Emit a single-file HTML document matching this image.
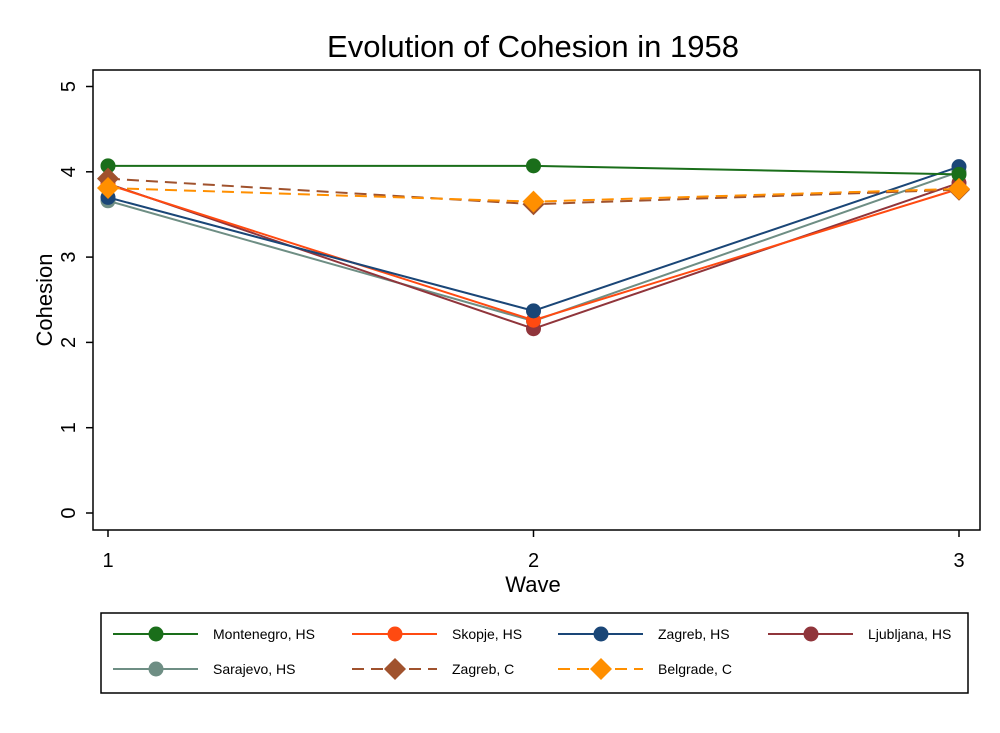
<!DOCTYPE html>
<html><head><meta charset="utf-8"><style>
body{margin:0;background:#fff;font-family:"Liberation Sans",sans-serif}
</style></head><body>
<svg id="c" width="1000" height="728" xmlns="http://www.w3.org/2000/svg">
<rect width="1000" height="728" fill="#fff"/>
<text x="533" y="57" font-size="31" text-anchor="middle" font-family="Liberation Sans">Evolution of Cohesion in 1958</text>
<rect x="93" y="70" width="887" height="460" fill="none" stroke="#000" stroke-width="1.5"/>
<text transform="translate(52,300) rotate(-90)" font-size="22" text-anchor="middle">Cohesion</text>
<text x="533" y="592" font-size="22" text-anchor="middle">Wave</text>
<g id="ax"></g><g id="marks"></g>
<rect x="101" y="613" width="867" height="80" fill="none" stroke="#000" stroke-width="1.5"/>
<g id="leg"></g>
</svg>
<script>
const waves=[1,2,3];
const yTicks=[0,1,2,3,4,5];
const names=["Montenegro, HS","Skopje, HS","Zagreb, HS","Ljubljana, HS","Sarajevo, HS","Zagreb, C","Belgrade, C"];
const montenegro=[4.07,4.07,3.97];
const skopje=[3.85,2.26,3.80];
const zagrebHS=[3.70,2.37,4.06];
const ljubljana=[3.86,2.16,3.87];
const sarajevo=[3.66,2.25,4.00];
const zagrebC=[3.92,3.62,3.79];
const belgradeC=[3.81,3.65,3.80];
const series=[montenegro,skopje,zagrebHS,ljubljana,sarajevo,zagrebC,belgradeC];
const colors=["#1a6e1a","#ff4a11","#1a4677","#90353b","#6e8e84","#a0522d","#ff8f00"];
const dashed=[0,0,0,0,0,1,1];
const diamond=[0,0,0,0,0,1,1];
const order=[4,3,1,2,0,5,6];
const X=v=>108+(v-1)*425.5;
const Y=v=>513-v*85.3;
const NS="http://www.w3.org/2000/svg";
function mk(t,a,p){const e=document.createElementNS(NS,t);for(const k in a)e.setAttribute(k,a[k]);p.appendChild(e);return e;}
const ax=document.getElementById('ax');
yTicks.forEach(t=>{mk('line',{x1:86,x2:93,y1:Y(t),y2:Y(t),stroke:'#000','stroke-width':1.5},ax);
 const tx=mk('text',{transform:`translate(${75},${Y(t)}) rotate(-90)`,'font-size':20,'text-anchor':'middle'},ax);tx.textContent=t;
 
 });
waves.forEach(w=>{mk('line',{x1:X(w),x2:X(w),y1:530,y2:537,stroke:'#000','stroke-width':1.5},ax);
 const tx=mk('text',{x:X(w),y:567,'font-size':20,'text-anchor':'middle'},ax);tx.textContent=w;
 
 });
const m=document.getElementById('marks');
function marker(x,y,i,p){
 if(diamond[i]) return mk('polygon',{points:`${x},${y-11} ${x+11},${y} ${x},${y+11} ${x-11},${y}`,fill:colors[i]},p);
 return mk('circle',{cx:x,cy:y,r:7.5,fill:colors[i]},p);
}
order.forEach(i=>{
 const g=mk('g',{},m);
 
 
 const pts=series[i].map((v,j)=>X(waves[j])+','+Y(v)).join(' ');
 mk('polyline',{points:pts,fill:'none',stroke:colors[i],'stroke-width':2,'stroke-dasharray':dashed[i]?'12,7':'none'},g);
 series[i].forEach((v,j)=>{const c=marker(X(waves[j]),Y(v),i,g);
  
  });
});
const leg=document.getElementById('leg');
const lx=[113,352,558,768], ly=[634,669];
names.forEach((n,i)=>{
 const x=lx[i%4], y=ly[Math.floor(i/4)];
 const g=mk('g',{},leg);
 
 
 mk('line',{x1:x,x2:x+85,y1:y,y2:y,stroke:colors[i],'stroke-width':2,'stroke-dasharray':dashed[i]?'12,7':'none'},g);
 marker(x+43,y,i,g);
 const t=mk('text',{x:x+100,y:y+5,'font-size':14},g);t.textContent=n;
});
</script>
</body></html>
